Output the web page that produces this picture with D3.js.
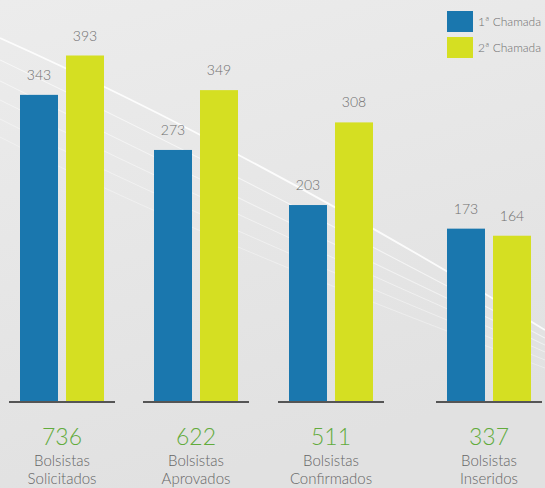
<!DOCTYPE html>
<html>
<head>
<meta charset="utf-8">
<script src="https://cdn.jsdelivr.net/npm/d3@7"></script>
<style>
  html, body { margin: 0; padding: 0; background: #e6e6e6; }
  svg { display: block; }
</style>
</head>
<body>
<svg id="chart" width="545" height="488"></svg>
<script>
// ---- data ----
const categories = ["Solicitados", "Aprovados", "Confirmados", "Inseridos"];
const labelTop = ["Bolsistas", "Bolsistas", "Bolsistas", "Bolsistas"];
const labelBottom = ["Solicitados", "Aprovados", "Confirmados", "Inseridos"];
const totals = [736, 622, 511, 337];
const seriesNames = ["1ª Chamada", "2ª Chamada"];
const chamada1 = [343, 273, 203, 173];
const chamada2 = [393, 349, 308, 164];

// ---- layout ----
const W = 545, H = 488;
const baseY = 401;
const colors = ["#1a77ae", "#d5df22"];
const font = "Lato, 'Open Sans', sans-serif";

const svg = d3.select("#chart");
const defs = svg.append("defs");
const grad = defs.append("linearGradient").attr("id", "bg").attr("x1", 0).attr("y1", 0).attr("x2", 0.3).attr("y2", 1);
grad.append("stop").attr("offset", "0%").attr("stop-color", "#ececec");
grad.append("stop").attr("offset", "100%").attr("stop-color", "#e1e1e1");
svg.append("rect").attr("width", W).attr("height", H).attr("fill", "url(#bg)");

// decorative swoosh lines
const sw = svg.append("g").attr("fill", "none").attr("stroke", "#ffffff");
const swooshes = [
  {y0: 38, c: [250, 150], y1: 330, w: 1.8, o: 0.85},
  {y0: 60, c: [240, 175], y1: 338, w: 1.1, o: 0.6},
  {y0: 81, c: [230, 195], y1: 345, w: 1.1, o: 0.5},
  {y0: 100, c: [220, 210], y1: 352, w: 1, o: 0.45},
  {y0: 119, c: [210, 225], y1: 360, w: 1, o: 0.4},
  {y0: 137, c: [200, 240], y1: 368, w: 1, o: 0.35}
];
swooshes.forEach(s => {
  sw.append("path")
    .attr("d", `M0,${s.y0} Q${s.c[0]},${s.c[1]} ${W},${s.y1}`)
    .attr("stroke-width", s.w).attr("stroke-opacity", s.o);
});

// ---- scales ----
const x0 = d3.scaleOrdinal().domain(categories).range([62, 196, 331, 489]);
const x1 = d3.scaleBand().domain(seriesNames).range([-42, 42]).paddingInner(0.174).paddingOuter(0);
const y = d3.scaleLinear().domain([-46, 400]).range([baseY, 50]);

const rows = categories.map((c, i) => ({cat: c, vals: [chamada1[i], chamada2[i]], total: totals[i], l1: labelTop[i], l2: labelBottom[i]}));

const g = svg.append("g");
const groups = g.selectAll("g.grp").data(rows).join("g")
  .attr("class", "grp")
  .attr("transform", d => `translate(${x0(d.cat)},0)`);

groups.selectAll("rect").data(d => d.vals.map((v, j) => ({v, s: seriesNames[j], j}))).join("rect")
  .attr("x", d => x1(d.s))
  .attr("width", x1.bandwidth())
  .attr("y", d => y(d.v))
  .attr("height", d => baseY - y(d.v))
  .attr("fill", d => colors[d.j]);

groups.selectAll("text.val").data(d => d.vals.map((v, j) => ({v, s: seriesNames[j], j}))).join("text")
  .attr("class", "val")
  .attr("x", d => x1(d.s) + x1.bandwidth() / 2)
  .attr("y", d => y(d.v) - 15)
  .attr("text-anchor", "middle")
  .attr("font-family", font)
  .attr("font-weight", 300)
  .attr("font-size", 14)
  .attr("fill", "#6f6f6f")
  .text(d => d.v);

groups.append("line")
  .attr("x1", -53).attr("x2", 53)
  .attr("y1", baseY + 1).attr("y2", baseY + 1)
  .attr("stroke", "#555").attr("stroke-width", 2);

groups.append("text")
  .attr("y", 445).attr("text-anchor", "middle")
  .attr("font-family", font).attr("font-weight", 300).attr("font-size", 23)
  .attr("fill", "#62ab3c")
  .text(d => d.total);
groups.append("text")
  .attr("y", 466).attr("text-anchor", "middle")
  .attr("font-family", font).attr("font-weight", 300).attr("font-size", 15)
  .attr("fill", "#666")
  .text(d => d.l1);
groups.append("text")
  .attr("y", 484).attr("text-anchor", "middle")
  .attr("font-family", font).attr("font-weight", 300).attr("font-size", 15)
  .attr("fill", "#666")
  .text(d => d.l2);

// ---- legend ----
const lg = svg.append("g").selectAll("g").data(seriesNames).join("g")
  .attr("transform", (d, i) => `translate(447,${11 + i * 26})`);
lg.append("rect").attr("width", 26).attr("height", 21).attr("fill", (d, i) => colors[i]);
lg.append("text").attr("x", 31).attr("y", 15)
  .attr("font-family", font).attr("font-weight", 300).attr("font-size", 12)
  .attr("fill", "#6f6f6f")
  .text(d => d);
</script>
</body>
</html>
